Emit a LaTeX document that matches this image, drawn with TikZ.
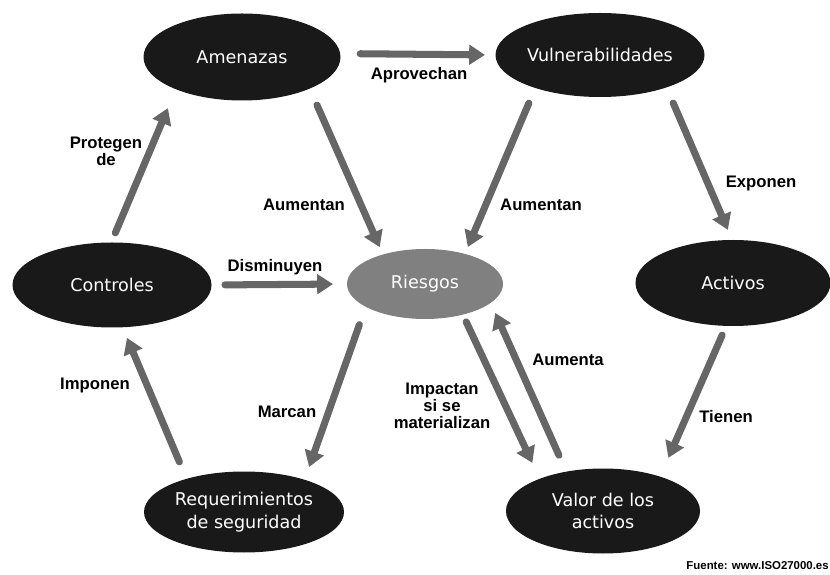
\documentclass[tikz,border=0pt]{standalone}
\usepackage{fontspec}
\setmainfont{Liberation Sans}
\newfontfamily\conceptfont{DejaVu Sans}
\usetikzlibrary{arrows.meta,shapes}
\tikzstyle{concept} =
  [ ellipse
  , fill=black!90
  , text=white
  , font=\conceptfont\fontsize{10}{13}\selectfont
  , align=center
  , inner sep=0pt
  , outer sep=0pt
  ]
\tikzstyle{central_concept} =
  [ concept
  , fill=black!50
  ]
\tikzstyle{relation} =
  [ ->
  , line width=4pt
  , draw=black!60
  , line cap=round
  , >={Triangle[length=9pt,width=11pt]}
  ]
\tikzstyle{verb} =
  [ font=\bfseries\fontsize{9.5}{9.5}\selectfont
  , align=center
  , inner sep=0pt
  ]

\begin{document}
\begin{tikzpicture}
    \useasboundingbox (0,0) rectangle (16.6,-11.5);

    % Concepts
    \node[concept, minimum width=3.94cm, minimum height=1.74cm] (amenazas)         at (4.84,-1.14)  {Amenazas};
    \node[concept, minimum width=4.18cm, minimum height=1.68cm] (vulnerabilidades) at (12.0,-1.1)   {Vulnerabilidades};
    \node[concept, minimum width=3.98cm, minimum height=1.70cm] (controles)        at (2.24,-5.7)   {Controles};
    \node[central_concept, minimum width=3.12cm, minimum height=1.40cm] (riesgos)  at (8.5,-5.68)   {Riesgos};
    \node[concept, minimum width=3.90cm, minimum height=1.72cm] (activos)          at (14.66,-5.66) {Activos};
    \node[concept, minimum width=4.00cm, minimum height=1.62cm] (requerimientos)   at (4.88,-10.24) {Requerimientos\\de seguridad};
    \node[concept, minimum width=3.88cm, minimum height=1.70cm] (valor)            at (12.06,-10.22) {Valor de los\\activos};

    % Upper relations
    \draw[relation, shorten <=0.40cm, shorten >=0.21cm] (amenazas.2)          -- (vulnerabilidades.180);
    \draw[relation, shorten <=0.36cm, shorten >=0.16cm] (amenazas.-25)        -- (riesgos.145);
    \draw[relation, shorten <=0.33cm, shorten >=0.15cm] (vulnerabilidades.207) -- (riesgos.37);
    \draw[relation, shorten <=0.34cm, shorten >=0.22cm] (vulnerabilidades.-26) -- (activos.91);
    \draw[relation, shorten <=0.21cm, shorten >=0.41cm] (controles.91)        -- (amenazas.206);
    \draw[relation, shorten <=0.27cm, shorten >=0.28cm] (controles.east)      -- (riesgos.west);

    % Lower relations
    \draw[relation, shorten <=0.20cm, shorten >=0.41cm] (activos.261)         -- (valor.31);
    \draw[relation, shorten <=0.37cm, shorten >=0.23cm] (requerimientos.150)  -- (controles.-76);
    \draw[relation, shorten <=0.38cm, shorten >=0.27cm] (riesgos.201)         -- (requerimientos.28);
    \draw[relation, shorten <=0.16cm, shorten >=0.35cm] (riesgos.-39)         -- (valor.153);
    \draw[relation, shorten <=0.36cm, shorten >=0.22cm] (valor.133)           -- (riesgos.-16);

    % Labels
    \node[verb] (aprovechan)   at (8.38,-1.5)   {Aprovechan};
    \node[verb] (aumentan_a)   at (6.08,-4.1)   {Aumentan};
    \node[verb] (aumentan_v)   at (10.82,-4.1)  {Aumentan};
    \node[verb] (exponen)      at (15.22,-3.66) {Exponen};
    \node[verb] (protegen)     at (2.12,-3.02)  {Protegen\\de};
    \node[verb] (disminuyen)   at (5.5,-5.34)   {Disminuyen};
    \node[verb] (tienen)       at (14.52,-8.34) {Tienen};
    \node[verb] (imponen)      at (1.9,-7.7)    {Imponen};
    \node[verb] (marcan)       at (5.74,-8.24)  {Marcan};
    \node[verb] (impactan)     at (8.84,-8.12)  {Impactan\\si se\\materializan};
    \node[verb] (aumenta)      at (11.36,-7.2)  {Aumenta};

    \node[verb, anchor=east, font=\bfseries\fontsize{6.5}{6.5}\selectfont] (fuente) at (16.58,-11.32) {Fuente: www.ISO27000.es};
\end{tikzpicture}
\end{document}
